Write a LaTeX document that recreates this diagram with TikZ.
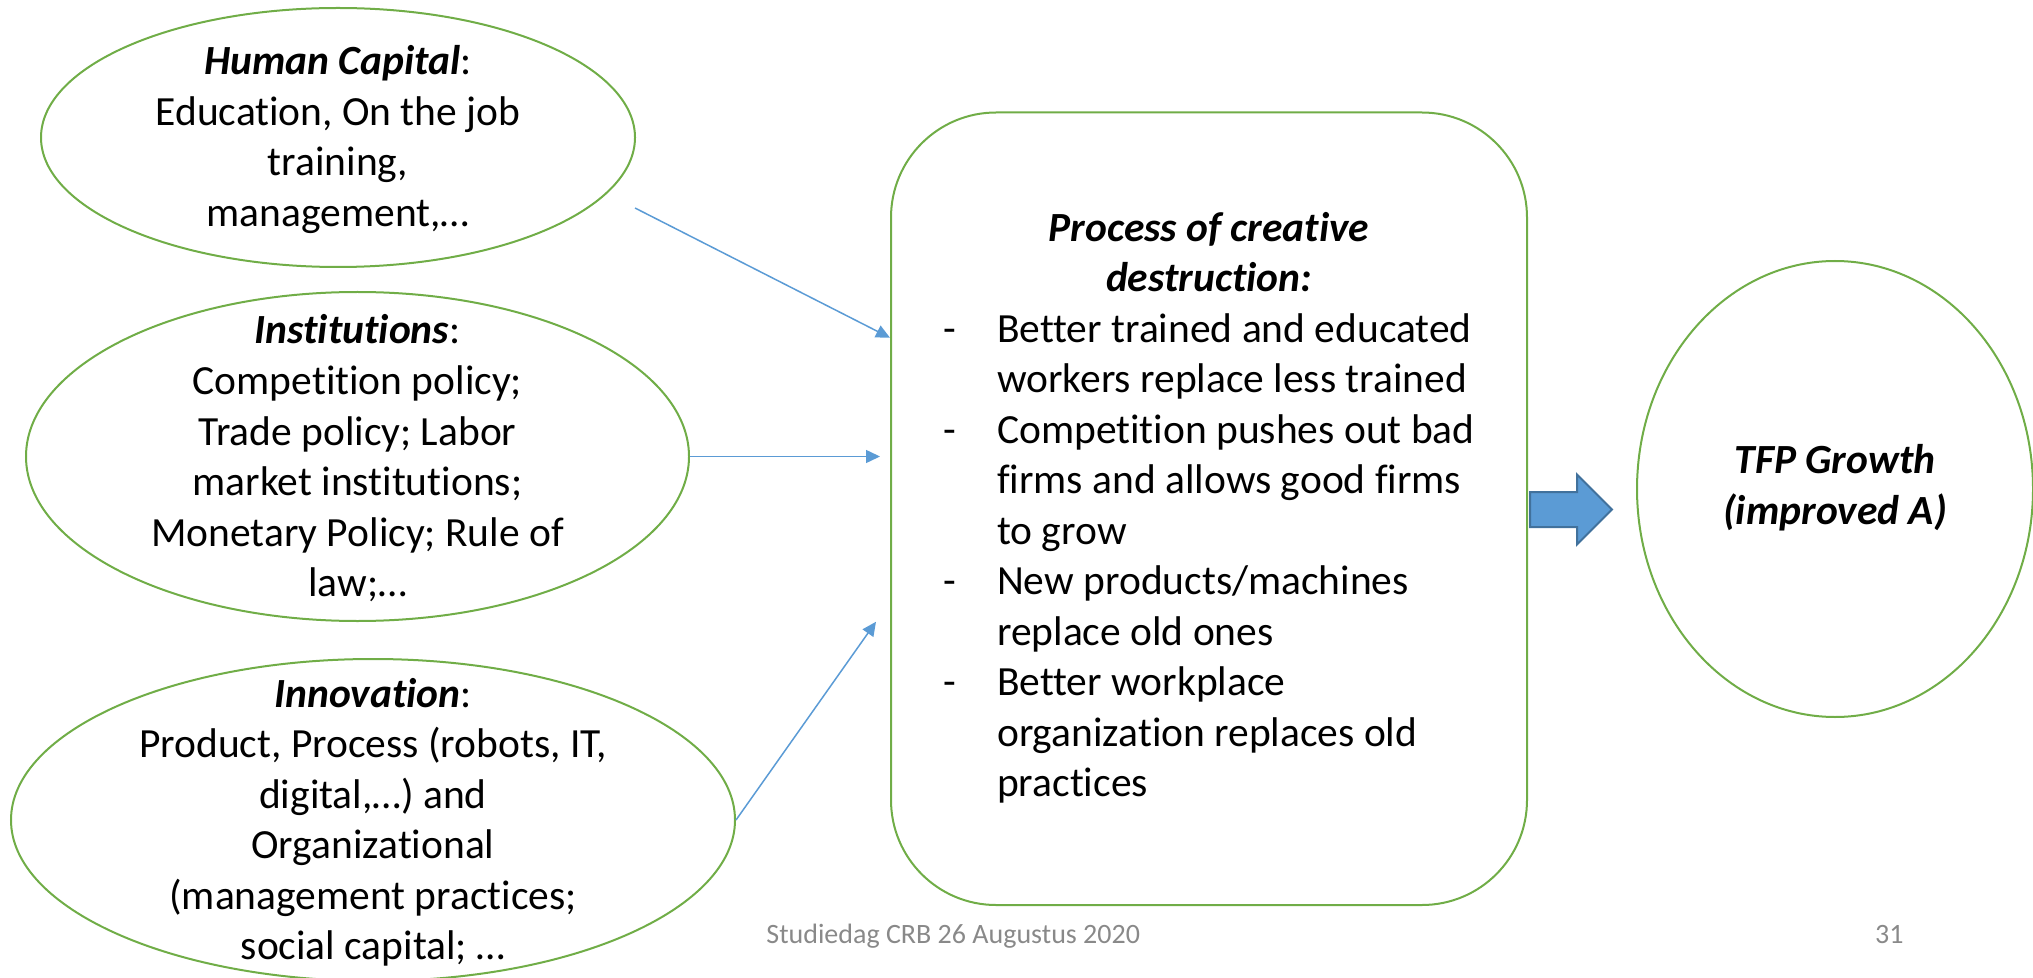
\documentclass[tikz,border=0pt]{standalone}
\usepackage{fontspec}
\setmainfont{Carlito}[Ligatures=NoCommon]
\usetikzlibrary{arrows.meta,shapes.geometric,shapes.arrows,calc}

\definecolor{leafgreen}{HTML}{70AD47}
\definecolor{linkblue}{HTML}{5B9BD5}
\definecolor{arrowedge}{HTML}{41719C}
\definecolor{footgray}{HTML}{898989}

\newcommand\bodysize{\fontsize{20.75pt}{25.25pt}\selectfont}
\newcommand\footsize{\fontsize{14pt}{17pt}\selectfont}
\newcommand\hd[1]{\textbf{\textit{#1}}}

\begin{document}
\begin{tikzpicture}[x=0.5pt,y=-0.5pt,
  oval/.style={ellipse, draw=leafgreen, line width=1pt, inner sep=0pt},
  ovaltext/.style={font=\bodysize, inner sep=0pt},
  procbox/.style={draw=leafgreen, line width=1pt, rounded corners=52.5pt,
    minimum width=318pt, minimum height=396.25pt, inner sep=0pt, font=\bodysize},
  link/.style={draw=linkblue, line width=0.75pt, -{Triangle[length=7pt,width=6.5pt]}},
  bigarrow/.style={single arrow, fill=linkblue, draw=arrowedge, line width=1pt,
    single arrow head extend=8.75pt, minimum height=41pt, inner sep=0pt},
  foot/.style={font=\footsize, text=footgray, inner sep=0pt}]

\useasboundingbox (0,0) rectangle (2033,978);

% drivers on the left
\node[oval, minimum width=297pt, minimum height=129.5pt] (hc) at (338,137.5) {};
\node[ovaltext] (hc-text) at (338,140.65) {\begin{tabular}{@{}c@{}}
  \hd{Human Capital}:\\
  Education, On the job\\
  training,\\
  management,…
\end{tabular}};

\node[oval, minimum width=331.5pt, minimum height=164.5pt] (inst) at (357.5,456.5) {};
\node[ovaltext] (inst-text) at (357.5,460.15) {\begin{tabular}{@{}c@{}}
  \hd{Institutions}:\\
  Competition policy;\\
  Trade policy; Labor\\
  market institutions;\\
  Monetary Policy; Rule of\\
  law;…
\end{tabular}};

\node[oval, minimum width=362pt, minimum height=161pt] (innov) at (373,820) {};
\node[ovaltext] (innov-text) at (373,823.15) {\begin{tabular}{@{}c@{}}
  \hd{Innovation}:\\
  Product, Process (robots, IT,\\
  digital,…) and\\
  Organizational\\
  (management practices;\\
  social capital; …
\end{tabular}};

% central process
\node[procbox] (proc) at (1209,508.75) {\begin{tabular}{@{}p{27pt}@{}l@{}}
  \multicolumn{2}{@{}c@{}}{\hd{Process of creative}}\\
  \multicolumn{2}{@{}c@{}}{\hd{destruction:}}\\
  -&Better trained and educated\\
   &workers replace less trained\\
  -&Competition pushes out bad\\
   &firms and allows good firms\\
   &to grow\\
  -&New products/machines\\
   &replace old ones\\
  -&Better workplace\\
   &organization replaces old\\
   &practices
\end{tabular}};

% outcome
\node[oval, minimum width=198pt, minimum height=228pt, font=\bodysize] (tfp) at (1835,489)
  {\begin{tabular}{@{}c@{}}\hd{TFP Growth}\\\hd{(improved A)}\end{tabular}};

% block arrow between process and outcome
\node[bigarrow, anchor=tail] (push) at (1529,509.5) {\rule{0pt}{16.5pt}};

% thin connectors into the process box
\coordinate (hc-out) at (635,208);
\draw[link] (hc-out) -- ($(proc.west)+(0,-171)$);
\draw[link] (inst.east) -- ($(inst.east -| proc.west)+(-10,0)$);
\draw[link] (innov.east) -- ($(proc.west)+(-14,113)$);

% footer
\node[foot, anchor=base west] (footer) at (766,943) {Studiedag CRB 26 Augustus 2020};
\node[foot, anchor=base east] (pageno) at (1904,943) {31};

\end{tikzpicture}
\end{document}
